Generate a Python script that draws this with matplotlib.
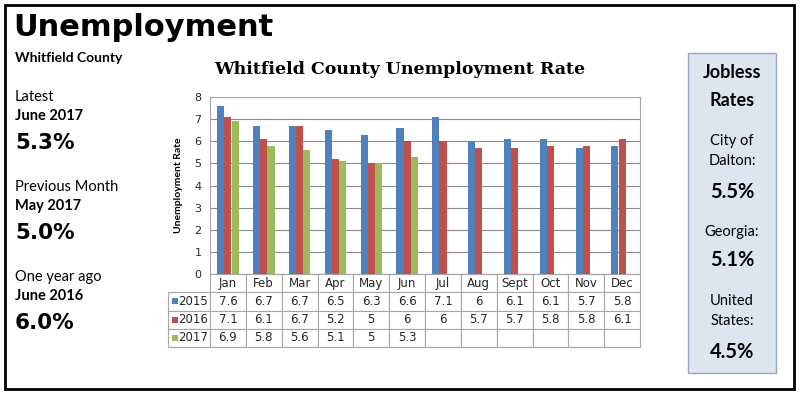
import numpy as np
import matplotlib
matplotlib.use("Agg")
import matplotlib.pyplot as plt
from matplotlib.patches import Rectangle

# data
months = ["Jan", "Feb", "Mar", "Apr", "May", "Jun", "Jul", "Aug", "Sept", "Oct", "Nov", "Dec"]
years = ["2015", "2016", "2017"]
rate_2015 = [7.6, 6.7, 6.7, 6.5, 6.3, 6.6, 7.1, 6, 6.1, 6.1, 5.7, 5.8]
rate_2016 = [7.1, 6.1, 6.7, 5.2, 5, 6, 6, 5.7, 5.7, 5.8, 5.8, 6.1]
rate_2017 = [6.9, 5.8, 5.6, 5.1, 5, 5.3, None, None, None, None, None, None]
colors = ["#4F81BD", "#C0504D", "#9BBB59"]

side_labels = [("Latest", "June 2017", "5.3%"),
               ("Previous Month", "May 2017", "5.0%"),
               ("One year ago", "June 2016", "6.0%")]
jobless = [("City of\nDalton:", "5.5%"), ("Georgia:", "5.1%"), ("United\nStates:", "4.5%")]

W, H = 800, 396
fig = plt.figure(figsize=(8, 3.96), dpi=100)

def fx(px):
    return px / W

def fy(py):
    return 1 - py / H

# outer frame
fig.patches.append(Rectangle((fx(5), fy(389)), fx(789), 384 / H, transform=fig.transFigure,
                             fill=False, edgecolor="black", linewidth=2))

fig.text(fx(13), fy(27), "Unemployment", fontsize=22, fontweight="bold",
         family="DejaVu Sans", va="center", ha="left")
fig.text(fx(15), fy(58), "Whitfield County", fontsize=10, fontweight="bold",
         family="Lato", va="center")

# left summary
for i, (lab, when, val) in enumerate(side_labels):
    y0 = 97 + i * 90
    fig.text(fx(15), fy(y0), lab, fontsize=10.5, family="Lato", va="center")
    fig.text(fx(15), fy(y0 + 19), when, fontsize=10.5, fontweight="bold", family="Lato", va="center")
    fig.text(fx(15), fy(y0 + 46), val, fontsize=15.5, fontweight="bold",
             family="DejaVu Sans", va="center")

# right box
fig.patches.append(Rectangle((fx(688), fy(373)), fx(88), 320 / H, transform=fig.transFigure,
                             facecolor="#DCE6F1", edgecolor="#95A8C0", linewidth=1))
cx = fx(732)
fig.text(cx, fy(73), "Jobless", fontsize=13, fontweight="bold", family="Lato", ha="center", va="center")
fig.text(cx, fy(101), "Rates", fontsize=13, fontweight="bold", family="Lato", ha="center", va="center")
ys = [(151, 192), (232, 260), (311, 352)]
for (lab, val), (yl, yv) in zip(jobless, ys):
    fig.text(cx, fy(yl), lab, fontsize=10.5, family="Lato", ha="center", va="center", linespacing=1.6)
    fig.text(cx, fy(yv), val, fontsize=14.5, fontweight="bold", family="Lato", ha="center", va="center")

# chart
ax = fig.add_axes([fx(210), fy(274), fx(430), 177 / H])
x = np.arange(len(months))
series = [rate_2015, rate_2016, rate_2017]
width = 0.2
for k, (vals, c) in enumerate(zip(series, colors)):
    v = np.array([np.nan if a is None else a for a in vals], dtype=float)
    ax.bar(x + (k - 1) * width, v, width, color=c, zorder=3)

ax.set_xlim(-0.5, len(months) - 0.5)
ax.set_ylim(0, 8)
ax.set_yticks(range(9))
ax.tick_params(axis="y", length=0, labelsize=8, colors="#262626", pad=6)
ax.set_xticks([])
ax.grid(axis="y", color="#8C8C8C", linewidth=0.8, zorder=0)
for s in ax.spines.values():
    s.set_color("#A6A6A6")
    s.set_linewidth(0.8)
ax.set_ylabel("Unemployment Rate", fontsize=7.5, fontweight="bold", family="Lato", labelpad=8)
fig.text(fx(400), fy(70), "Whitfield County Unemployment Rate", fontsize=12.5, fontweight="bold",
         family="DejaVu Serif", ha="center", va="center")

# data table under the chart (first column holds the year labels)
cell_text = [[""] + months]
for yr, vals in zip(years, series):
    cell_text.append([yr] + ["" if a is None else "{:g}".format(a) for a in vals])
lab_w, col_w = 42.0, 430.0 / 12
total_w = lab_w + 12 * col_w
tab = ax.table(cellText=cell_text, cellLoc="center",
               colWidths=[lab_w / total_w] + [col_w / total_w] * 12,
               bbox=[-lab_w / 430, -73 / 177, total_w / 430, 73 / 177])
tab.auto_set_font_size(False)
tab.set_fontsize(8.5)
for (r, c), cell in tab.get_celld().items():
    cell.set_edgecolor("#A6A6A6")
    cell.set_linewidth(0.8)
    cell.get_text().set_color("#262626")
    if r == 0 and c == 0:
        cell.set_visible(False)
    if c == 0:
        cell.get_text().set_ha("left")
        cell.PAD = 10 / 42

row_h = 73 / 177 / 4
for k, c in enumerate(colors):
    yc = -row_h * (k + 1.5)
    ax.add_patch(Rectangle((-38 / 430, yc - 3 / 177), 6 / 430, 6 / 177, transform=ax.transAxes,
                           facecolor=c, edgecolor="none", clip_on=False, zorder=5))

fig.savefig("out.png", dpi=100)
